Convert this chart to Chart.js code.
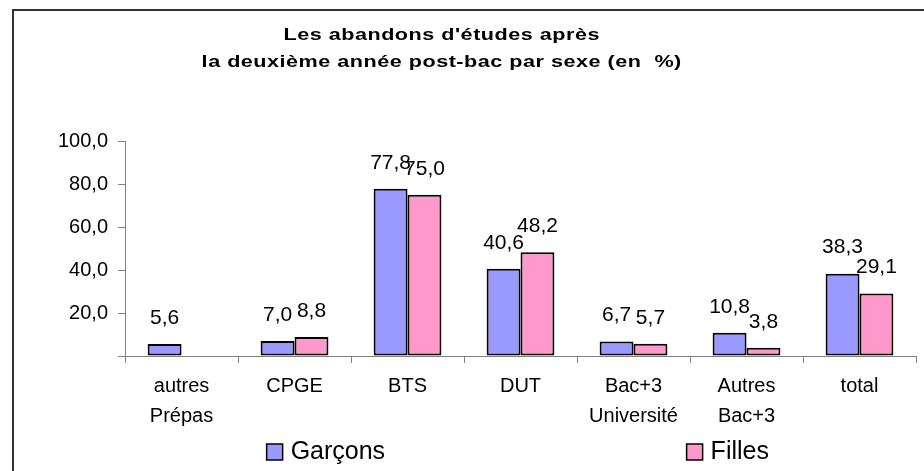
<!DOCTYPE html>
<html>
<head>
<meta charset="utf-8">
<script src="https://cdn.jsdelivr.net/npm/chart.js@4.4.0/dist/chart.umd.min.js"></script>
<style>
  html, body { margin: 0; padding: 0; background: #fff; overflow: hidden; }
  #wrap { position: relative; width: 924px; height: 471px; overflow: hidden; }
  #frame { position: absolute; left: 12px; top: 9px; width: 1000px; height: 1000px;
           border: 2px solid #333; pointer-events: none; }
  #title { position: absolute; left: 0; top: 21px; width: 884px; text-align: center;
           font: bold 17px "Liberation Sans", Arial, sans-serif; line-height: 27px;
           letter-spacing: 0.4px; color: #000;
           transform: scaleX(1.27); transform-origin: 443px 0; }
  canvas { position: absolute; left: 0; top: 0; }
</style>
</head>
<body>
<div id="wrap">
  <canvas id="chart" width="924" height="471"></canvas>
  <div id="title">Les abandons d'études après<br>la deuxième année post-bac par sexe (en&nbsp; %)</div>
  <div id="frame"></div>
</div>
<script>
// values
const categories = [['autres', 'Prépas'], 'CPGE', 'BTS', 'DUT', ['Bac+3', 'Université'], ['Autres', 'Bac+3'], 'total']
const seriesNames = ['Garçons', 'Filles']
const garcons = [5.6, 7.0, 77.8, 40.6, 6.7, 10.8, 38.3]
const filles = [null, 8.8, 75.0, 48.2, 5.7, 3.8, 29.1]
const yTicks = [0, 20, 40, 60, 80, 100]

const FONT = '"Liberation Sans", Arial, sans-serif'
const fmt = v => v.toFixed(1).replace('.', ',')

// value labels over each bar
const barLabels = {
    id: 'barLabels',
    afterDatasetsDraw(chart) {
        let ctx = chart.ctx
        ctx.save()
        ctx.font = '21px ' + FONT
        ctx.fillStyle = '#000'
        ctx.textAlign = 'center'
        ctx.textBaseline = 'middle'
        chart.data.datasets.forEach((ds, i) => {
            chart.getDatasetMeta(i).data.forEach((bar, j) => {
                if (ds.data[j] == null) return
                ctx.fillText(fmt(ds.data[j]), bar.x, bar.y - 26)
            })
        })
        ctx.restore()
    }
}

// legend spread out under the axis like the original
const spreadLegend = {
    id: 'spreadLegend',
    afterDraw(chart, args, opts) {
        let ctx = chart.ctx, area = chart.chartArea
        ctx.save()
        ctx.font = opts.fontSize + 'px ' + FONT
        ctx.textBaseline = 'middle'
        chart.data.datasets.forEach((ds, i) => {
            let x = area.left + opts.anchors[i] * area.width
            let y = chart.height - opts.bottom
            ctx.fillStyle = ds.backgroundColor
            ctx.fillRect(x, y - opts.box / 2, opts.box, opts.box)
            ctx.lineWidth = 1.5
            ctx.strokeStyle = '#000'
            ctx.strokeRect(x, y - opts.box / 2, opts.box, opts.box)
            ctx.fillStyle = '#000'
            ctx.fillText(ds.label, x + opts.box + 8, y)
        })
        ctx.restore()
    }
}

new Chart(document.getElementById('chart'), {
    type: 'bar',
    data: {
        labels: categories,
        datasets: [{
            label: seriesNames[0],
            data: garcons,
            backgroundColor: '#9999FF',
            borderColor: '#000',
            borderWidth: 2,
            borderSkipped: false,
            categoryPercentage: 0.6,
            barPercentage: 1
        }, {
            label: seriesNames[1],
            data: filles,
            backgroundColor: '#FF99CC',
            borderColor: '#000',
            borderWidth: 2,
            borderSkipped: false,
            categoryPercentage: 0.6,
            barPercentage: 1
        }]
    },
    options: {
        responsive: false,
        animation: false,
        layout: { padding: { top: 141, left: 48, right: 8, bottom: 32 } },
        plugins: {
            legend: { display: false },
            tooltip: { enabled: false },
            spreadLegend: { anchors: [0.179, 0.71], bottom: 19, box: 16, fontSize: 25 }
        },
        scales: {
            x: {
                grid: { drawOnChartArea: false, drawTicks: true, tickLength: 7, color: '#808080', offset: true },
                border: { color: '#808080', width: 1 },
                ticks: { color: '#000', padding: 8, maxRotation: 0, autoSkip: false,
                         font: { family: FONT, size: 20, lineHeight: 1.5 } }
            },
            y: {
                min: yTicks[0],
                max: yTicks[yTicks.length - 1],
                afterBuildTicks: scale => { scale.ticks = yTicks.map(v => ({ value: v })) },
                grid: { drawOnChartArea: false, drawTicks: true, tickLength: 7, color: '#808080' },
                border: { color: '#808080', width: 1 },
                ticks: { color: '#000', padding: 10,
                         font: { family: FONT, size: 20 },
                         callback: v => v === 0 ? '' : fmt(v) }
            }
        }
    },
    plugins: [barLabels, spreadLegend]
})
</script>
</body>
</html>
